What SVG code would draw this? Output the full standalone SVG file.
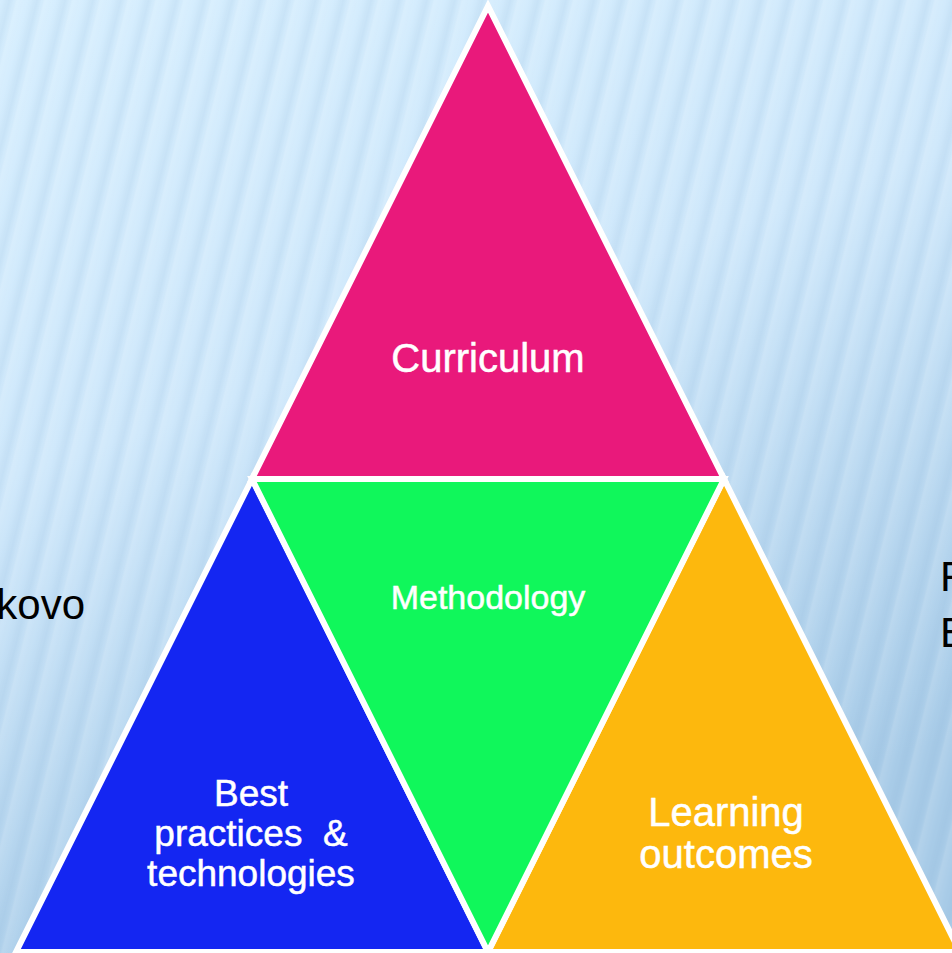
<svg xmlns="http://www.w3.org/2000/svg" width="952" height="953" viewBox="0 0 952 953">
  <defs>
    <linearGradient id="bg" x1="0" y1="0" x2="0.35" y2="1">
      <stop offset="0" stop-color="#D6EEFE"/>
      <stop offset="0.45" stop-color="#CFE8FB"/>
      <stop offset="1" stop-color="#A9CCE8"/>
    </linearGradient>
    <linearGradient id="stripe" x1="0" y1="0" x2="1" y2="0">
      <stop offset="0" stop-color="#7FA9CF" stop-opacity="0"/>
      <stop offset="0.35" stop-color="#7FA9CF" stop-opacity="0.14"/>
      <stop offset="0.5" stop-color="#7FA9CF" stop-opacity="0.03"/>
      <stop offset="0.6" stop-color="#FFFFFF" stop-opacity="0.12"/>
      <stop offset="1" stop-color="#FFFFFF" stop-opacity="0"/>
    </linearGradient>
    <pattern id="stripes" width="27" height="40" patternUnits="userSpaceOnUse" patternTransform="rotate(14)">
      <rect width="27" height="40" fill="url(#stripe)"/>
    </pattern>
    <style>
      .tri { stroke: #FFFFFF; stroke-width: 6; stroke-linejoin: miter; }
      .lbl { fill: #FFFFFF; stroke: #FFFFFF; stroke-width: 0.5; font-family: "Liberation Sans", Arial, sans-serif; text-anchor: middle; }
      .side { fill: #000000; font-family: "Liberation Sans", Arial, sans-serif; font-size: 42px; }
    </style>
  </defs>

  <rect width="952" height="953" fill="url(#bg)"/>
  <rect width="952" height="953" fill="url(#stripes)"/>

  <text class="side" x="85" y="619" text-anchor="end">kovo</text>
  <text class="side" x="940" y="591">F</text>
  <text class="side" x="940" y="647">E</text>

  <g id="curriculum">
    <polygon class="tri" points="488,6 252,479 724,479" fill="#E9197B"/>
    <text class="lbl" x="488" y="372" font-size="40">Curriculum</text>
  </g>
  <g id="best-practices">
    <polygon class="tri" points="252,479 16,952 488,952" fill="#1426F2"/>
    <text class="lbl" font-size="37" xml:space="preserve"><tspan x="251" y="806">Best</tspan><tspan x="251" y="846">practices  &amp;</tspan><tspan x="251" y="886">technologies</tspan></text>
  </g>
  <g id="learning-outcomes">
    <polygon class="tri" points="724,479 488,952 960,952" fill="#FDB80D"/>
    <text class="lbl" font-size="40"><tspan x="726" y="826">Learning</tspan><tspan x="726" y="868">outcomes</tspan></text>
  </g>
  <g id="methodology">
    <polygon class="tri" points="252,479 724,479 488,952" fill="#10F75B"/>
    <text class="lbl" x="488" y="609" font-size="34">Methodology</text>
  </g>
</svg>
